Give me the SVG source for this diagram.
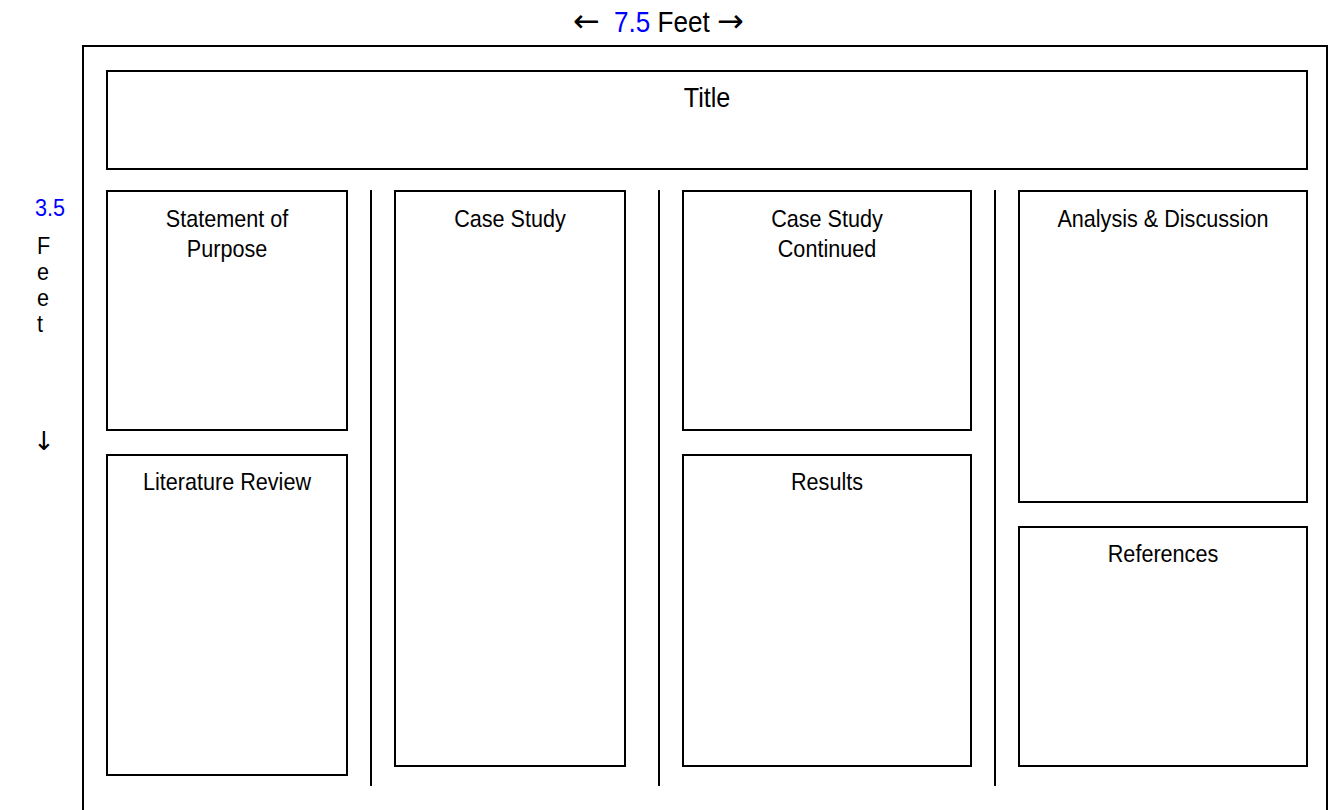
<svg xmlns="http://www.w3.org/2000/svg" width="1335" height="810" viewBox="0 0 1335 810">
<style>
.box{fill:#fff;stroke:#000;stroke-width:2}
.div{stroke:#000;stroke-width:2}
text{font-family:"Liberation Sans",Arial,sans-serif;font-size:24px;fill:#000;text-anchor:middle}
.s{text-anchor:start}
.blue{fill:#0000ff}
.ar{font-family:"DejaVu Sans",sans-serif}
</style>
<rect width="1335" height="810" fill="#fff"/>
<g id="dims">
<text class="ar s" x="573" y="32" style="font-size:32px">←</text>
<g transform="translate(614,32) scale(0.9,1)"><text class="s" x="0" y="0" style="font-size:29px"><tspan class="blue">7.5</tspan> Feet</text></g>
<text class="ar s" x="717" y="32" style="font-size:32px">→</text>
<g transform="translate(35,216) scale(0.9,1)"><text class="s blue" x="0" y="0">3.5</text></g>
<g transform="translate(37,0) scale(0.9,1)">
<text class="s" x="0" y="254">F</text>
<text class="s" x="0" y="280">e</text>
<text class="s" x="0" y="306">e</text>
<text class="s" x="0" y="332">t</text>
</g>
<text class="ar s" x="33" y="450" style="font-size:26px">↓</text>
</g>
<g id="frame"><rect class="box" x="83" y="46" width="1244" height="800"/></g>
<g id="title"><rect class="box" x="107" y="71" width="1200" height="98"/><g transform="translate(707,107) scale(0.9,1)"><text style="font-size:28px">Title</text></g></g>
<g id="statement"><rect class="box" x="107" y="191" width="240" height="239"/><g transform="translate(227,0) scale(0.9,1)"><text y="227">Statement of</text><text y="257">Purpose</text></g></g>
<g id="literature"><rect class="box" x="107" y="455" width="240" height="320"/><g transform="translate(227,0) scale(0.9,1)"><text y="490">Literature Review</text></g></g>
<g id="casestudy"><rect class="box" x="395" y="191" width="230" height="575"/><g transform="translate(510,0) scale(0.9,1)"><text y="227">Case Study</text></g></g>
<g id="casestudy2"><rect class="box" x="683" y="191" width="288" height="239"/><g transform="translate(827,0) scale(0.9,1)"><text y="227">Case Study</text><text y="257">Continued</text></g></g>
<g id="results"><rect class="box" x="683" y="455" width="288" height="311"/><g transform="translate(827,0) scale(0.9,1)"><text y="490">Results</text></g></g>
<g id="analysis"><rect class="box" x="1019" y="191" width="288" height="311"/><g transform="translate(1163,0) scale(0.9,1)"><text y="227">Analysis &amp; Discussion</text></g></g>
<g id="references"><rect class="box" x="1019" y="527" width="288" height="239"/><g transform="translate(1163,0) scale(0.9,1)"><text y="562">References</text></g></g>
<g id="connectors">
<line class="div" x1="371" y1="190" x2="371" y2="786"/>
<line class="div" x1="659" y1="190" x2="659" y2="786"/>
<line class="div" x1="995" y1="190" x2="995" y2="786"/>
</g>
</svg>
